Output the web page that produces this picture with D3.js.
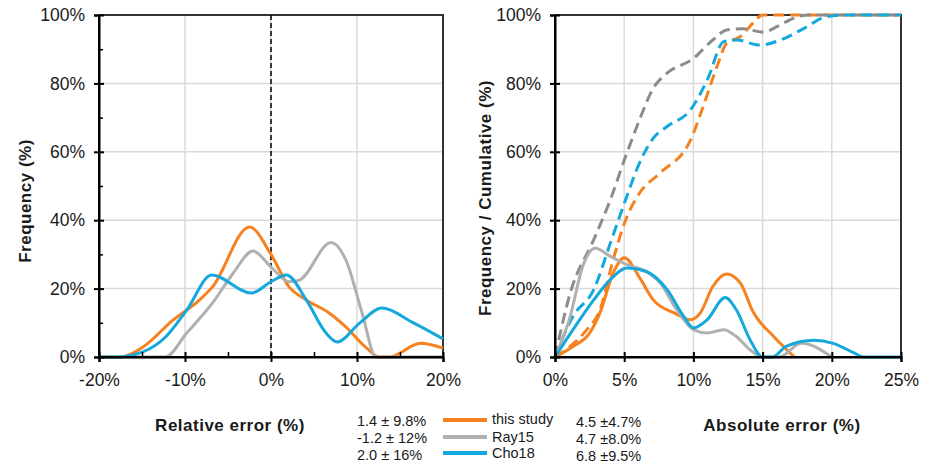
<!DOCTYPE html>
<html>
<head>
<meta charset="utf-8">
<script src="https://cdn.jsdelivr.net/npm/d3@7"></script>
<style>
  body { margin: 0; background: #fff; }
  svg { display: block; font-family: 'Liberation Sans', Arial, sans-serif; }
</style>
</head>
<body>
<svg id="chart" width="927" height="463"></svg>
<script>
// series names + colours
const seriesNames = ['this study', 'Ray15', 'Cho18'];
const colors = ['#f5821f', '#b0b0b0', '#14a8dc'];
const dashColors = ['#f5821f', '#8c8c8c', '#14a8dc'];

// legend stats (relative | absolute)
const relStats = ['1.4 \u00b1 9.8%', '-1.2 \u00b1 12%', '2.0 \u00b1 16%'];
const absStats = ['4.5 \u00b14.7%', '4.7 \u00b18.0%', '6.8 \u00b19.5%'];

// ticks
const relTicks = [-20, -10, 0, 10, 20];
const relMinor = [-15, -5, 5, 15];
const absTicks = [0, 5, 10, 15, 20, 25];
const freqTicks = [0, 20, 40, 60, 80, 100];
const freqMinor = [10, 30, 50, 70, 90];

// left panel: relative error frequency, [error %, freq %]
const relThisStudy = [[-20,0],[-17.5,0],[-14.9,2.9],[-11.4,10.8],[-8.3,16.7],[-6.8,20.5],[-2.5,38],[0,30],[2.1,20.5],[4.1,16.7],[6.8,12.8],[8.7,8.8],[11,2.9],[12.6,0],[13.7,0],[17.4,4],[20,2.6]];
const relRay15 = [[-20,0],[-12.3,0],[-9.8,7],[-6.8,15.8],[-4.4,24.5],[-2.1,31],[0,26.3],[2.1,22],[3.3,22.5],[7,33.5],[8.7,28.4],[10.6,12.8],[12.2,0],[20,0]];
const relCho18 = [[-20,0],[-18,0],[-14.9,1.5],[-12.2,6],[-9.8,13.7],[-6.9,24],[-2.3,18.7],[0,22],[1.8,24],[4.1,16.7],[6.4,7],[7.7,4.4],[10.3,9.9],[12.9,14.3],[16.4,10.2],[20,5.3]];

// right panel: absolute error frequency
const absThisStudy = [[0,0],[1.3,3.1],[2.5,7],[3.25,12.9],[4.2,24.5],[5,29],[6.2,22.6],[7.1,16.7],[8.6,12.9],[9.8,10.9],[10.5,12.9],[11.4,20.6],[12.4,24.3],[13.4,21.6],[14.3,13.3],[15.8,6],[17.3,0]];
const absRay15 = [[0,0],[1.1,11.9],[2,26.5],[2.9,31.8],[4,29.4],[5.2,27],[6.6,25],[7.6,21.6],[8.8,13.8],[10,8],[11,7],[12.2,8],[13.1,6],[14.1,2.1],[15,0],[16.2,0],[17.8,4],[20,0]];
const absCho18 = [[0,0],[1.3,8],[2.8,16.7],[4,22.6],[5.2,26],[6.6,25],[8.1,19.7],[9.3,11.9],[10,8.5],[11,10.9],[12.3,17.4],[13.1,13.8],[14.1,5],[15,0],[15.7,0],[16.7,3.1],[18.7,4.9],[20.1,4],[21.6,1.2],[22.3,0],[25,0]];

// right panel: cumulative
const cumThisStudy = [[0,0],[1.1,3.1],[2.3,8],[3.25,13.8],[4.2,28.4],[5.1,40],[6.1,47.9],[7.6,53.8],[9.8,63.5],[10.7,73.2],[11.7,84.9],[12.4,91.7],[13.4,93.7],[14.3,97.6],[15,100],[25,100]];
const cumRay15 = [[0,0],[1.1,18.7],[2.8,34.3],[4,46],[5.1,58.6],[6.1,69.3],[7.1,78.6],[8.1,83],[10,87.3],[11.4,92.7],[12.4,95.6],[13.6,96],[15,95],[16.5,97.6],[17.5,99.5],[18.4,100],[25,100]];
const cumCho18 = [[0,0],[1.3,11.9],[2.8,19.7],[4,33.3],[5.1,46],[6.1,56.7],[7.1,64],[8.1,67.4],[9.8,72.3],[11,81],[12.2,92.2],[13.1,92.7],[14.8,91.2],[16.3,92.7],[18,96.1],[19.6,99.5],[21,100],[25,100]];

const svg = d3.select('#chart');
const top_ = 15, bottom = 357;
const fmtPct = d => d + '%';

function panel(left, right, xDomain, xTicks, xMinor, yMinor, freqSeries, cumSeries, zeroLine) {
  const x = d3.scaleLinear().domain(xDomain).range([left, right]);
  const y = d3.scaleLinear().domain([0, 100]).range([bottom, top_]);
  const g = svg.append('g');

  // grid
  g.selectAll('.hgrid').data(freqTicks.slice(1, -1)).enter().append('line')
    .attr('x1', left).attr('x2', right)
    .attr('y1', d => y(d)).attr('y2', d => y(d))
    .attr('stroke', '#dadada').attr('stroke-width', 1.5);
  g.selectAll('.vgrid').data(xTicks.slice(1, -1)).enter().append('line')
    .attr('x1', d => x(d)).attr('x2', d => x(d))
    .attr('y1', top_).attr('y2', bottom)
    .attr('stroke', '#dadada').attr('stroke-width', 1.5);

  // frame top/right
  g.append('path')
    .attr('d', `M${left},${top_}H${right}V${bottom}`)
    .attr('fill', 'none').attr('stroke', '#333').attr('stroke-width', 2);

  if (zeroLine) {
    g.append('line')
      .attr('x1', x(0)).attr('x2', x(0)).attr('y1', top_).attr('y2', bottom)
      .attr('stroke', '#000').attr('stroke-width', 1.5).attr('stroke-dasharray', '5,3');
  }

  const line = d3.line().x(d => x(d[0])).y(d => y(d[1])).curve(d3.curveMonotoneX);

  // cumulative first (behind)
  cumSeries.forEach((s, i) => {
    g.append('path').datum(s).attr('d', line)
      .attr('fill', 'none').attr('stroke', dashColors[i]).attr('stroke-width', 3)
      .attr('stroke-dasharray', '11,6');
  });
  freqSeries.forEach((s, i) => {
    g.append('path').datum(s).attr('d', line)
      .attr('fill', 'none').attr('stroke', colors[i]).attr('stroke-width', 3)
      .attr('stroke-linejoin', 'round');
  });

  // y axis
  const ya = g.append('g').attr('transform', `translate(${left},0)`)
    .call(d3.axisLeft(y).tickValues(freqTicks).tickFormat(fmtPct).tickSize(5).tickPadding(9));
  ya.selectAll('.tick line').attr('x1', 5).attr('stroke-width', 2);
  if (yMinor) {
    g.append('g').attr('transform', `translate(${left},0)`)
      .call(d3.axisRight(y).tickValues(yMinor).tickFormat('').tickSize(4))
      .selectAll('line').attr('stroke-width', 1.5);
  }

  // x axis
  const xa = g.append('g').attr('transform', `translate(0,${bottom})`)
    .call(d3.axisBottom(x).tickValues(xTicks).tickFormat(fmtPct).tickSize(5).tickPadding(12));
  xa.selectAll('.tick line').attr('y1', -5).attr('stroke-width', 2);
  if (xMinor) {
    g.append('g').attr('transform', `translate(0,${bottom})`)
      .call(d3.axisTop(x).tickValues(xMinor).tickFormat('').tickSize(5))
      .selectAll('line').attr('stroke-width', 1.5);
  }

  [ya, xa].forEach(a => {
    a.select('.domain').attr('stroke', '#000').attr('stroke-width', 2);
    a.selectAll('text').attr('font-size', '17.5px').attr('fill', '#1a1a1a')
      .attr('font-family', "'Liberation Sans', Arial, sans-serif");
  });
  // axis lines again, over the curves at zero
  g.append('line').attr('x1', left).attr('x2', right).attr('y1', bottom).attr('y2', bottom)
    .attr('stroke', '#000').attr('stroke-width', 2);
  g.append('line').attr('x1', left).attr('x2', left).attr('y1', top_).attr('y2', bottom)
    .attr('stroke', '#000').attr('stroke-width', 2);
  return { x, y };
}

panel(99, 443, [-20, 20], relTicks, relMinor, freqMinor,
  [relThisStudy, relRay15, relCho18], [], true);
panel(555, 901, [0, 25], absTicks, null, null,
  [absThisStudy, absRay15, absCho18], [cumThisStudy, cumRay15, cumCho18], false);

// axis titles
const bold = sel => sel.attr('font-weight', 'bold').attr('font-size', '17px').attr('fill', '#1a1a1a')
  .attr('text-anchor', 'middle').attr('letter-spacing', '0.5px');
svg.append('text').call(bold)
  .attr('transform', 'translate(31,201) rotate(-90)').text('Frequency (%)');
svg.append('text').call(bold)
  .attr('transform', 'translate(491,198) rotate(-90)').text('Frequency / Cumulative (%)');
svg.append('text').call(bold).attr('x', 230).attr('y', 431).text('Relative error (%)');
svg.append('text').call(bold).attr('x', 782).attr('y', 431).text('Absolute error (%)');

// legend
const leftY = [426, 443, 460];
const labelY = [424, 442, 458];
const rightY = [427, 444, 461];
const lineY = [420, 437, 453];
const leg = svg.append('g');
const small = (sel, x, y) => sel.attr('x', x).attr('y', y)
  .attr('font-size', '14.5px').attr('fill', '#1a1a1a');
seriesNames.forEach((name, i) => {
  leg.append('text').call(small, 357, leftY[i]).text(relStats[i]);
  leg.append('line')
    .attr('x1', 443).attr('x2', 487).attr('y1', lineY[i]).attr('y2', lineY[i])
    .attr('stroke', colors[i]).attr('stroke-width', 4);
  leg.append('text').call(small, 492, labelY[i]).text(name);
  leg.append('text').call(small, 576, rightY[i]).text(absStats[i]);
});
</script>
</body>
</html>
